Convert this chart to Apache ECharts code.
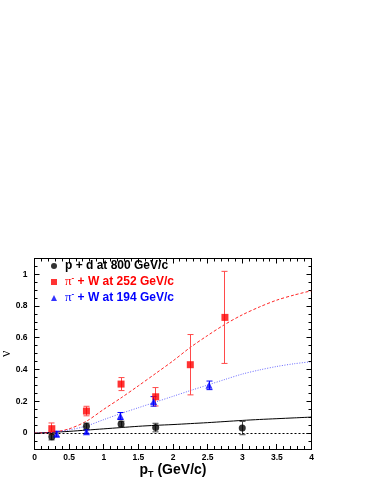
<!DOCTYPE html>
<html><head><meta charset="utf-8">
<script src="https://cdn.jsdelivr.net/npm/echarts@6/dist/echarts.min.js"></script>
<style>html,body{margin:0;padding:0;background:#fff}#c{width:374px;height:484px}</style>
</head><body><div id="c"></div>
<script>
// ---- data ----
const pdX = [0.25, 0.75, 1.25, 1.75, 3.0];
const pdY = [-0.023, 0.043, 0.057, 0.035, 0.032];
const pdErr = [0.02, 0.02, 0.018, 0.027, 0.042];

const w252X = [0.25, 0.75, 1.25, 1.75, 2.25, 2.75];
const w252Y = [0.028, 0.139, 0.309, 0.229, 0.431, 0.729];
const w252Err = [0.036, 0.03, 0.041, 0.058, 0.19, 0.29];

const w194X = [0.32, 0.75, 1.24, 1.72, 2.52];
const w194Y = [-0.006, 0.009, 0.108, 0.2, 0.301];
const w194Err = [0.018, 0.012, 0.022, 0.03, 0.027];

const fitX   = [0, 0.25, 0.5, 0.75, 1, 1.25, 1.5, 1.75, 2, 2.25, 2.5, 2.75, 3, 3.25, 3.5, 3.75, 4];
const fit252 = [0, 0.005, 0.027, 0.075, 0.15, 0.222, 0.298, 0.376, 0.455, 0.54, 0.615, 0.685, 0.745, 0.795, 0.838, 0.87, 0.897];
const fit194 = [0, 0.004, 0.02, 0.045, 0.085, 0.124, 0.16, 0.196, 0.232, 0.268, 0.303, 0.338, 0.372, 0.398, 0.42, 0.437, 0.45];
const fitPd  = [0, 0.005, 0.011, 0.019, 0.027, 0.035, 0.043, 0.049, 0.054, 0.06, 0.066, 0.073, 0.08, 0.086, 0.091, 0.096, 0.101];

const xMajorTicks = [0, 0.5, 1, 1.5, 2, 2.5, 3, 3.5, 4];
const yLabelTicks = [0, 0.2, 0.4, 0.6, 0.8, 1];
const X_MIN = 0, X_MAX = 4, Y_MIN = -0.1, Y_MAX = 1.1;
const X_MINOR_STEP = 0.1, Y_MINOR_STEP = 0.05;

const legendNames = {
  pd: '{k|p + d at 800 GeV/c}',
  w252: '{rp|π}{rs|-}{r| + W at 252 GeV/c}',
  w194: '{bp|π}{bs|-}{b| + W at 194 GeV/c}'
};

// ---- chart ----
const FONT = 'Liberation Sans';
const pairs = (xs, ys) => xs.map((x, i) => [x, ys[i]]);
const triples = (xs, ys, es) => xs.map((x, i) => [x, ys[i], es[i]]);

function stepTicks(a, b, step) {
  const out = [];
  const n = Math.round((b - a) / step);
  for (let i = 0; i <= n; i++) out.push(+(a + i * step).toFixed(4));
  return out;
}
const snap = v => Math.round(v - 0.5) + 0.5;

// frame ticks drawn as one custom item per axis, from the named tick lists
function tickSeries() {
  return {
    type: 'custom', silent: true, z: 6, clip: false,
    encode: { x: 0, y: 1 },
    data: [[X_MIN, Y_MIN]],
    renderItem: (p, api) => {
      const children = [];
      const st = { stroke: '#000', lineWidth: 1 };
      const add = (x1, y1, x2, y2) => children.push({ type: 'line', shape: { x1, y1, x2, y2 }, style: st });
      const o = api.coord([X_MIN, Y_MIN]), e = api.coord([X_MAX, Y_MAX]);
      const left = o[0], bottom = o[1], right = e[0], top = e[1];
      const xt = (v, len) => { const x = snap(api.coord([v, Y_MIN])[0]); add(x, bottom, x, bottom - len); add(x, top, x, top + len); };
      const yt = (v, len) => { const y = snap(api.coord([X_MIN, v])[1]); add(left, y, left + len, y); add(right, y, right - len, y); };
      stepTicks(X_MIN, X_MAX, X_MINOR_STEP).forEach(v => xt(v, 3));
      xMajorTicks.forEach(v => xt(v, 5));
      stepTicks(Y_MIN, Y_MAX, Y_MINOR_STEP).forEach(v => yt(v, 3));
      yLabelTicks.forEach(v => yt(v, 5));
      return { type: 'group', children };
    }
  };
}

function errSeries(xs, ys, es, color) {
  return {
    type: 'custom', silent: true, z: 3,
    encode: { x: 0, y: 1 },
    data: triples(xs, ys, es),
    renderItem: (p, api) => {
      const x = api.value(0), y = api.value(1), e = api.value(2);
      const t = api.coord([x, y + e]), b = api.coord([x, y - e]);
      const w = 3;
      const sx = snap(t[0]);
      const st = { stroke: color, lineWidth: 1 };
      return { type: 'group', children: [
        { type: 'line', shape: { x1: sx, y1: t[1], x2: sx, y2: b[1] }, style: st },
        { type: 'line', shape: { x1: sx - w, y1: t[1], x2: sx + w, y2: t[1] }, style: st },
        { type: 'line', shape: { x1: sx - w, y1: b[1], x2: sx + w, y2: b[1] }, style: st }
      ]};
    }
  };
}
function fitSeries(ys, color, type, width) {
  return {
    type: 'line', data: pairs(fitX, ys), smooth: 0.3, showSymbol: false, symbol: 'none',
    silent: true, z: 2, lineStyle: { color: color, width: width || 1, type: type }
  };
}
function xAx(pos, withLabel) {
  return {
    type: 'value', min: X_MIN, max: X_MAX, interval: 0.5, position: pos,
    axisLine: { show: true, onZero: false, lineStyle: { color: '#000', width: 1 } },
    splitLine: { show: false }, axisTick: { show: false },
    axisLabel: { show: withLabel, fontSize: 8.5, fontWeight: 'bold', color: '#000', fontFamily: FONT, margin: 4 },
    name: withLabel ? '{m|p}{s|T}{m| (GeV/c)}' : '',
    nameLocation: 'middle', nameGap: 14, nameMoveOverlap: false,
    nameTextStyle: { rich: {
      m: { fontSize: 14, fontWeight: 'bold', fontFamily: FONT, color: '#000', lineHeight: 16, verticalAlign: 'top' },
      s: { fontSize: 9, fontWeight: 'bold', fontFamily: FONT, color: '#000', lineHeight: 10, padding: [9, 0, 0, 0], verticalAlign: 'bottom' }
    } }
  };
}
function yAx(pos, withLabel) {
  return {
    type: 'value', min: Y_MIN, max: Y_MAX, position: pos,
    axisLine: { show: true, onZero: false, lineStyle: { color: '#000', width: 1 } },
    splitLine: { show: false }, axisTick: { show: false },
    axisLabel: { show: withLabel, customValues: yLabelTicks, fontSize: 8.5, fontWeight: 'bold', color: '#000', fontFamily: FONT, margin: 7 },
    name: withLabel ? 'ν' : '', nameLocation: 'middle', nameGap: 21, nameRotate: 90, nameMoveOverlap: false,
    nameTextStyle: { fontSize: 14, fontFamily: 'Liberation Serif', color: '#000' }
  };
}

const chart = echarts.init(document.getElementById('c'), null, { renderer: 'canvas' });
chart.setOption({
  animation: false,
  backgroundColor: '#fff',
  grid: { left: 34.5, right: 62.5, top: 258.5, bottom: 35, show: false,
          containLabel: false, outerBoundsMode: 'none' },
  xAxis: [xAx('bottom', true), xAx('top', false)],
  yAxis: [yAx('left', true), yAx('right', false)],
  legend: {
    orient: 'vertical', left: 51, top: 258, padding: 0, itemGap: 0, itemWidth: 6, itemHeight: 6,
    selectedMode: false,
    data: [{ name: 'pd', icon: 'circle' }, { name: 'w252', icon: 'rect' }, { name: 'w194', icon: 'triangle' }],
    formatter: n => legendNames[n],
    textStyle: { fontSize: 12, lineHeight: 16, rich: {
      k: { color: '#000', fontSize: 12, fontWeight: 'bold', fontFamily: FONT, lineHeight: 16, padding: [0, 0, 0, 3] },
      r: { color: '#f00', fontSize: 12, fontWeight: 'bold', fontFamily: FONT, lineHeight: 16 },
      rp: { color: '#f00', fontSize: 13, fontFamily: 'Liberation Serif', lineHeight: 16, padding: [0, 0, 0, 3] },
      rs: { color: '#f00', fontSize: 8, fontWeight: 'bold', fontFamily: FONT, lineHeight: 10, verticalAlign: 'top' },
      b: { color: '#00f', fontSize: 12, fontWeight: 'bold', fontFamily: FONT, lineHeight: 16 },
      bp: { color: '#00f', fontSize: 13, fontFamily: 'Liberation Serif', lineHeight: 16, padding: [0, 0, 0, 3] },
      bs: { color: '#00f', fontSize: 8, fontWeight: 'bold', fontFamily: FONT, lineHeight: 10, verticalAlign: 'top' }
    } }
  },
  series: [
    Object.assign(fitSeries(fitPd, '#000', 'solid', 1), {
      markLine: { silent: true, symbol: 'none', label: { show: false },
        lineStyle: { color: '#000', type: [2, 2], width: 1 }, data: [{ yAxis: 0 }] }
    }),
    fitSeries(fit252, 'rgba(255,0,0,0.85)', [3, 2], 1),
    fitSeries(fit194, 'rgba(0,0,255,0.6)', [1, 1.5], 1),
    errSeries(pdX, pdY, pdErr, '#444'),
    errSeries(w252X, w252Y, w252Err, '#ff4a4a'),
    errSeries(w194X, w194Y, w194Err, '#0000ff'),
    { name: 'pd', type: 'scatter', data: pairs(pdX, pdY), symbol: 'circle', symbolSize: 7, itemStyle: { color: '#000' }, z: 5 },
    { name: 'w252', type: 'scatter', data: pairs(w252X, w252Y), symbol: 'rect', symbolSize: 7, itemStyle: { color: '#f00' }, z: 5 },
    { name: 'w194', type: 'scatter', data: pairs(w194X, w194Y), symbol: 'triangle', symbolSize: 7, itemStyle: { color: '#00f' }, z: 5 },
    tickSeries()
  ]
});
</script></body></html>
